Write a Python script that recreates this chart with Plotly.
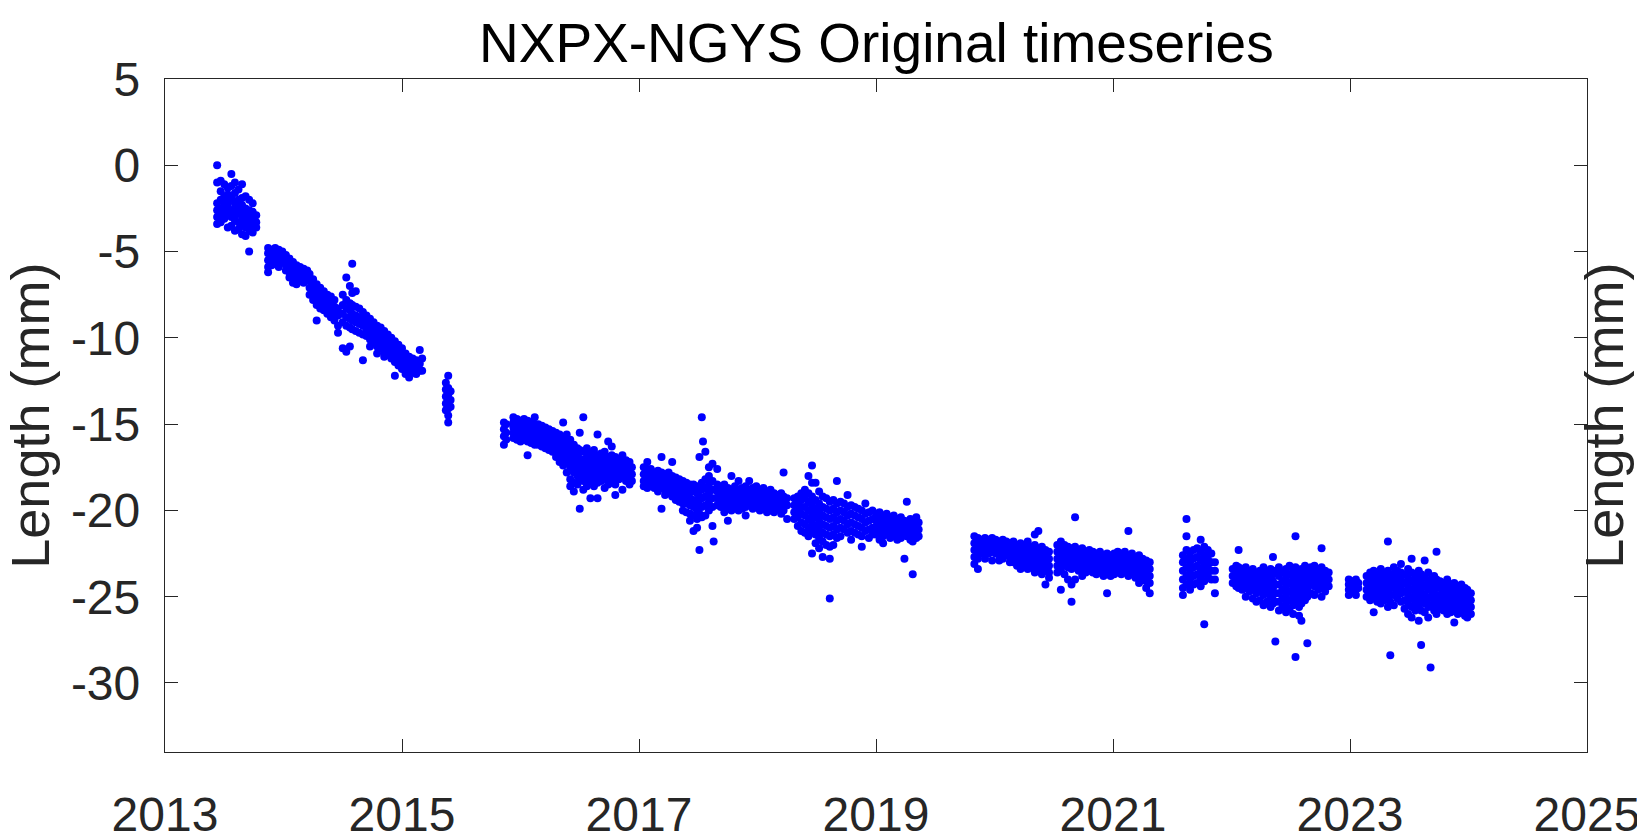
import plotly.graph_objects as go

# epoch (decimal year) -> list of baseline lengths (mm)
c2013 = [
    (2013.44, [0.0, -1.0, -2.2, -2.6, -3.0, -3.4]),
    (2013.47, [-0.9, -1.5, -2.0, -2.5, -2.9, -3.3]),
    (2013.50, [-1.1, -1.8, -2.3, -2.7, -3.1]),
    (2013.53, [-1.3, -1.7, -2.1, -2.4, -2.8, -3.6]),
    (2013.56, [-0.5, -1.2, -1.9, -2.6, -3.0, -3.5]),
    (2013.59, [-1.0, -1.6, -2.2, -2.5, -2.9, -3.2, -3.8]),
    (2013.62, [-1.4, -2.0, -2.4, -2.8, -3.3, -3.7]),
    (2013.65, [-1.1, -1.9, -2.3, -2.7, -3.0, -3.5, -4.0]),
    (2013.68, [-1.8, -2.5, -2.9, -3.2, -3.6, -4.1]),
    (2013.71, [-2.0, -2.6, -3.0, -3.4, -3.8, -5.0]),
    (2013.74, [-2.2, -2.7, -3.1, -3.5, -3.9]),
    (2013.77, [-2.9, -3.3, -3.6]),
    (2013.87, [-4.8, -5.1, -5.5, -5.9, -6.2]),
    (2013.90, [-4.9, -5.2, -5.5, -5.8]),
    (2013.93, [-4.8, -5.1, -5.4, -5.7]),
    (2013.96, [-4.9, -5.2, -5.6, -5.9]),
    (2013.99, [-5.0, -5.3, -5.6]),
]

c2014 = [
    (2014.02, [-5.2, -5.5, -5.8, -6.1]),
    (2014.05, [-5.4, -5.8, -6.2, -6.5]),
    (2014.08, [-5.6, -6.0, -6.4, -6.8]),
    (2014.11, [-5.8, -6.2, -6.6, -6.9]),
    (2014.14, [-5.9, -6.3, -6.7]),
    (2014.17, [-6.0, -6.4, -6.8]),
    (2014.20, [-6.1, -6.5]),
    (2014.22, [-6.3, -6.7, -7.1, -7.5]),
    (2014.25, [-6.6, -7.0, -7.4, -7.8]),
    (2014.28, [-6.9, -7.3, -7.7, -8.1, -9.0]),
    (2014.31, [-7.1, -7.5, -7.9, -8.3]),
    (2014.34, [-7.3, -7.7, -8.1, -8.4]),
    (2014.37, [-7.5, -7.9, -8.3, -8.6]),
    (2014.40, [-7.6, -8.0, -8.4, -8.8]),
    (2014.43, [-7.8, -8.2, -8.6, -9.0]),
    (2014.46, [-8.3, -8.7, -9.3, -9.7]),
    (2014.50, [-7.5, -8.1, -8.6, -9.1, -10.6]),
    (2014.53, [-6.5, -7.8, -8.3, -8.8, -9.3, -10.8]),
    (2014.56, [-7.0, -8.0, -8.4, -8.9, -9.4, -10.5]),
    (2014.58, [-5.7, -7.4, -8.1, -8.6, -9.0, -9.5]),
    (2014.61, [-7.3, -8.2, -8.7, -9.1, -9.6]),
    (2014.64, [-8.3, -8.8, -9.2, -9.7]),
    (2014.67, [-8.5, -8.9, -9.3, -9.8, -11.3]),
    (2014.70, [-8.7, -9.1, -9.5, -9.9]),
    (2014.73, [-8.9, -9.3, -9.7, -10.1, -10.5]),
    (2014.76, [-9.1, -9.5, -9.9, -10.3]),
    (2014.79, [-9.3, -9.7, -10.1, -10.5, -10.9]),
    (2014.82, [-9.4, -9.8, -10.2, -10.6]),
    (2014.85, [-9.6, -10.0, -10.4, -10.8, -11.1]),
    (2014.88, [-9.8, -10.2, -10.6, -11.0]),
    (2014.91, [-10.0, -10.4, -10.8, -11.2]),
    (2014.94, [-10.2, -10.6, -11.0, -11.4, -12.2]),
    (2014.97, [-10.4, -10.8, -11.2, -11.6]),
]

c2015 = [
    (2015.00, [-10.6, -11.0, -11.4, -11.8]),
    (2015.03, [-10.9, -11.3, -11.7, -12.1]),
    (2015.06, [-11.1, -11.5, -11.9, -12.3]),
    (2015.09, [-11.2, -11.6, -12.0]),
    (2015.12, [-11.3, -11.7, -12.1]),
    (2015.15, [-10.7, -11.5, -11.9]),
    (2015.17, [-11.2, -11.9]),
    (2015.37, [-12.6, -13.0, -13.4, -13.8, -14.2]),
    (2015.39, [-12.2, -12.9, -13.3, -13.7, -14.1, -14.5, -14.9]),
    (2015.41, [-13.1, -13.6, -14.0]),
    (2015.86, [-14.9, -15.3, -15.7, -16.2]),
    (2015.88, [-15.0, -15.5, -15.9]),
    (2015.94, [-14.6, -14.9, -15.2, -15.5, -15.8]),
    (2015.97, [-14.7, -15.0, -15.3, -15.6, -15.9]),
]

c2016 = [
    (2016.00, [-14.8, -15.1, -15.4, -15.7, -16.0]),
    (2016.03, [-14.7, -15.0, -15.3, -15.6, -15.9]),
    (2016.06, [-14.8, -15.1, -15.4, -15.7, -16.0, -16.8]),
    (2016.09, [-14.9, -15.2, -15.5, -15.8, -16.1]),
    (2016.12, [-14.6, -15.0, -15.3, -15.6, -15.9, -16.2]),
    (2016.15, [-15.0, -15.3, -15.6, -15.9, -16.2]),
    (2016.18, [-15.1, -15.4, -15.7, -16.0, -16.3]),
    (2016.21, [-15.2, -15.5, -15.8, -16.1, -16.4]),
    (2016.24, [-15.3, -15.6, -15.9, -16.2, -16.5]),
    (2016.27, [-15.4, -15.7, -16.0, -16.3, -16.6]),
    (2016.30, [-15.5, -15.8, -16.1, -16.5, -16.9]),
    (2016.33, [-15.6, -16.0, -16.4, -16.8, -17.2]),
    (2016.36, [-14.9, -15.8, -16.2, -16.6, -17.0, -17.4]),
    (2016.39, [-15.6, -16.0, -16.4, -16.8, -17.2, -17.8]),
    (2016.42, [-15.9, -16.3, -16.7, -17.1, -17.5, -18.2, -18.6]),
    (2016.45, [-16.2, -16.6, -17.0, -17.4, -17.8, -18.4, -18.9]),
    (2016.48, [-16.4, -16.8, -17.2, -17.6, -18.0, -18.5]),
    (2016.50, [-15.5, -16.5, -17.0, -17.4, -17.8, -18.2, -19.9]),
    (2016.53, [-14.6, -16.6, -17.1, -17.5, -17.9, -18.3, -18.8]),
    (2016.56, [-16.4, -16.9, -17.3, -17.7, -18.1, -18.6]),
    (2016.59, [-16.7, -17.1, -17.5, -17.9, -18.3, -19.3]),
    (2016.62, [-16.5, -16.9, -17.3, -17.7, -18.1, -18.6]),
    (2016.65, [-15.6, -16.8, -17.2, -17.6, -18.0, -18.4, -19.3]),
    (2016.68, [-16.7, -17.1, -17.5, -17.9, -18.3]),
    (2016.71, [-16.6, -17.0, -17.4, -17.8, -18.2, -18.7]),
    (2016.74, [-16.0, -16.9, -17.3, -17.7, -18.1, -18.5]),
    (2016.77, [-16.3, -16.8, -17.2, -17.6, -18.0, -18.4]),
    (2016.80, [-16.9, -17.3, -17.7, -18.1, -18.5, -19.1]),
    (2016.83, [-17.0, -17.4, -17.8, -18.2]),
    (2016.86, [-16.8, -17.2, -17.6, -18.0, -18.8]),
    (2016.89, [-17.1, -17.5, -17.9, -18.3]),
    (2016.92, [-17.2, -17.6, -18.0, -18.5]),
    (2016.94, [-17.5, -17.9, -18.3]),
]

c2017 = [
    (2017.04, [-17.5, -17.9, -18.3, -18.6]),
    (2017.07, [-17.2, -17.6, -18.0, -18.4, -18.7]),
    (2017.10, [-17.6, -17.9, -18.2, -18.5]),
    (2017.13, [-17.8, -18.1, -18.4, -18.7]),
    (2017.16, [-17.7, -18.0, -18.3, -18.6, -18.9]),
    (2017.19, [-16.9, -17.8, -18.1, -18.4, -18.7, -19.9]),
    (2017.22, [-17.9, -18.2, -18.5, -18.8, -19.1]),
    (2017.25, [-17.8, -18.1, -18.4, -18.7, -19.0]),
    (2017.28, [-17.2, -18.0, -18.3, -18.6, -18.9, -19.2]),
    (2017.31, [-18.1, -18.4, -18.7, -19.0, -19.4]),
    (2017.34, [-18.2, -18.5, -18.8, -19.1, -19.5]),
    (2017.37, [-18.3, -18.6, -18.9, -19.2, -19.6, -20.0]),
    (2017.40, [-18.4, -18.8, -19.2, -19.6, -20.1]),
    (2017.43, [-18.5, -18.9, -19.3, -19.7, -20.2, -20.6]),
    (2017.46, [-18.5, -18.9, -19.4, -19.8, -20.3, -21.2]),
    (2017.49, [-18.6, -19.0, -19.5, -20.0, -20.5, -21.0]),
    (2017.51, [-16.9, -18.7, -19.2, -19.7, -20.2, -22.3]),
    (2017.53, [-14.6, -18.4, -18.8, -19.3, -19.8, -20.4]),
    (2017.54, [-16.0]),
    (2017.56, [-16.6, -18.2, -18.7, -19.2, -19.7, -20.3]),
    (2017.59, [-17.5, -18.0, -18.5, -19.0, -19.5, -20.0]),
    (2017.62, [-17.3, -18.3, -18.8, -19.3, -19.8, -20.9]),
    (2017.63, [-21.8]),
    (2017.66, [-17.6, -18.5, -18.9, -19.3, -19.7]),
    (2017.69, [-18.6, -19.0, -19.4, -19.8]),
    (2017.72, [-18.5, -18.9, -19.3, -19.7, -20.1]),
    (2017.75, [-18.7, -19.1, -19.5, -19.9, -20.6]),
    (2017.78, [-18.0, -18.8, -19.2, -19.6, -20.0]),
    (2017.81, [-18.6, -19.0, -19.4, -19.8]),
    (2017.84, [-18.3, -18.8, -19.2, -19.6, -20.0]),
    (2017.87, [-18.7, -19.1, -19.5, -19.9]),
    (2017.90, [-18.6, -19.0, -19.4, -19.8, -20.3]),
    (2017.93, [-18.3, -18.8, -19.2, -19.6]),
    (2017.96, [-18.7, -19.1, -19.5, -19.9]),
    (2017.99, [-18.6, -19.0, -19.4, -19.8]),
]

c2018 = [
    (2018.02, [-18.8, -19.2, -19.6, -20.0]),
    (2018.05, [-18.7, -19.1, -19.5, -19.9]),
    (2018.08, [-18.9, -19.3, -19.7, -20.1]),
    (2018.11, [-18.8, -19.2, -19.6, -20.0]),
    (2018.14, [-19.0, -19.4, -19.8, -20.1]),
    (2018.17, [-19.1, -19.5, -19.9]),
    (2018.20, [-19.0, -19.4, -19.8, -20.2]),
    (2018.22, [-17.8, -19.2, -19.6, -20.0]),
    (2018.25, [-19.3, -19.7, -20.5]),
    (2018.31, [-19.3, -19.7, -20.1, -20.5]),
    (2018.34, [-19.2, -19.6, -20.0, -20.4, -20.9]),
    (2018.37, [-19.0, -19.4, -19.8, -20.2, -20.7, -21.2]),
    (2018.40, [-18.8, -19.3, -19.8, -20.3, -20.8, -21.3]),
    (2018.43, [-18.0, -19.0, -19.5, -20.0, -20.5, -21.0, -21.5]),
    (2018.46, [-17.4, -18.4, -19.2, -19.7, -20.2, -20.7, -21.2, -22.5]),
    (2018.49, [-18.4, -19.4, -19.9, -20.4, -20.9, -21.4, -21.9]),
    (2018.52, [-18.9, -19.6, -20.1, -20.6, -21.1, -21.6, -22.2]),
    (2018.55, [-19.2, -19.8, -20.3, -20.8, -21.3, -21.8, -22.7]),
    (2018.58, [-19.3, -19.9, -20.4, -20.9, -21.4, -22.0]),
    (2018.61, [-19.5, -20.0, -20.5, -21.0, -21.5, -22.1, -22.8, -25.1]),
    (2018.64, [-19.4, -19.9, -20.4, -20.9, -21.4, -22.0]),
    (2018.67, [-18.3, -19.6, -20.1, -20.6, -21.1, -21.6]),
    (2018.70, [-19.5, -20.0, -20.5, -21.0, -21.5]),
    (2018.73, [-19.6, -20.1, -20.6, -21.1]),
    (2018.76, [-19.1, -19.8, -20.3, -20.8, -21.3]),
    (2018.79, [-19.7, -20.2, -20.7, -21.2, -21.7]),
    (2018.82, [-19.8, -20.3, -20.8, -21.3]),
    (2018.85, [-19.9, -20.4, -20.9, -21.4]),
    (2018.88, [-20.0, -20.5, -21.0, -21.5, -22.1]),
    (2018.91, [-19.6, -20.2, -20.7, -21.2]),
    (2018.94, [-20.1, -20.6, -21.1, -21.6]),
    (2018.97, [-20.0, -20.5, -21.0, -21.4]),
]

c2019 = [
    (2019.00, [-20.2, -20.6, -21.0, -21.4]),
    (2019.03, [-20.1, -20.5, -20.9, -21.3, -21.7]),
    (2019.06, [-20.3, -20.7, -21.1, -21.5, -21.9]),
    (2019.09, [-20.2, -20.6, -21.0, -21.4]),
    (2019.12, [-20.4, -20.8, -21.2, -21.6]),
    (2019.15, [-20.3, -20.7, -21.1, -21.5]),
    (2019.18, [-20.5, -20.9, -21.3, -21.7]),
    (2019.21, [-20.4, -20.8, -21.2, -21.6]),
    (2019.24, [-20.6, -21.0, -21.4, -22.8]),
    (2019.26, [-19.5, -20.7, -21.1, -21.5]),
    (2019.29, [-20.5, -20.9, -21.3, -21.7]),
    (2019.31, [-20.6, -21.0, -21.4, -21.8, -23.7]),
    (2019.34, [-20.4, -20.8, -21.2, -21.6]),
    (2019.36, [-20.7, -21.1, -21.5]),
    (2019.83, [-21.5, -21.9, -22.3, -22.7, -23.1]),
    (2019.86, [-21.6, -22.0, -22.4, -22.8, -23.4]),
    (2019.89, [-21.7, -22.1, -22.5]),
    (2019.92, [-21.6, -22.0, -22.4, -22.8]),
    (2019.95, [-21.7, -22.1, -22.5]),
    (2019.98, [-21.6, -22.0, -22.4, -22.9]),
]

c2020 = [
    (2020.01, [-21.7, -22.1, -22.5]),
    (2020.04, [-21.8, -22.2, -22.6, -22.9]),
    (2020.07, [-21.7, -22.1, -22.5, -22.8]),
    (2020.10, [-21.8, -22.2, -22.6]),
    (2020.13, [-21.9, -22.3, -22.7, -23.0]),
    (2020.16, [-21.8, -22.2, -22.6, -23.0]),
    (2020.19, [-22.0, -22.4, -22.8, -23.2]),
    (2020.22, [-21.9, -22.3, -22.7, -23.1, -23.4]),
    (2020.25, [-22.0, -22.4, -22.8, -23.2]),
    (2020.28, [-21.8, -22.2, -22.6, -23.0, -23.4]),
    (2020.31, [-22.1, -22.5, -22.9, -23.3]),
    (2020.34, [-21.4, -22.0, -22.4, -22.8, -23.2, -23.6]),
    (2020.37, [-21.2, -22.2, -22.6, -23.0, -23.4]),
    (2020.40, [-22.1, -22.5, -22.9, -23.3, -23.7]),
    (2020.43, [-22.3, -22.7, -23.1, -23.5, -24.3]),
    (2020.46, [-22.4, -22.8, -23.2, -23.6, -23.9]),
    (2020.53, [-22.0, -22.4, -22.8, -23.2, -23.6]),
    (2020.56, [-21.8, -22.2, -22.6, -23.0, -23.5, -24.6]),
    (2020.59, [-22.0, -22.4, -22.8, -23.2, -23.7]),
    (2020.62, [-22.1, -22.5, -22.9, -23.3, -24.0]),
    (2020.65, [-22.2, -22.6, -23.0, -23.4, -24.3, -25.3]),
    (2020.68, [-20.4, -22.1, -22.5, -22.9, -23.3, -24.0]),
    (2020.71, [-22.3, -22.7, -23.1, -23.5]),
    (2020.74, [-22.2, -22.6, -23.0, -23.4, -23.8]),
    (2020.77, [-22.4, -22.8, -23.2, -23.6]),
    (2020.80, [-22.3, -22.7, -23.1, -23.5]),
    (2020.83, [-22.4, -22.8, -23.2, -23.6]),
    (2020.86, [-22.5, -22.9, -23.3, -23.7]),
    (2020.89, [-22.4, -22.8, -23.2, -23.6]),
    (2020.92, [-22.6, -23.0, -23.4, -23.8]),
    (2020.95, [-22.5, -22.9, -23.3, -23.7, -24.8]),
    (2020.98, [-22.6, -23.0, -23.4, -23.8]),
]

c2021 = [
    (2021.01, [-22.5, -22.9, -23.3, -23.7]),
    (2021.04, [-22.4, -22.8, -23.2, -23.6]),
    (2021.07, [-22.5, -22.9, -23.3, -23.7]),
    (2021.10, [-22.4, -22.8, -23.2, -23.6]),
    (2021.13, [-21.2, -22.6, -23.0, -23.4, -23.8]),
    (2021.16, [-22.5, -22.9, -23.3, -23.7]),
    (2021.19, [-22.7, -23.1, -23.5, -23.9]),
    (2021.22, [-22.6, -23.0, -23.4, -23.8, -24.2]),
    (2021.25, [-22.8, -23.2, -23.6, -24.0]),
    (2021.28, [-22.9, -23.3, -23.7, -24.1, -24.5]),
    (2021.31, [-23.0, -23.4, -23.8, -24.2, -24.8]),
    (2021.59, [-22.6, -23.0, -23.5, -24.0, -24.5, -24.9]),
    (2021.62, [-20.5, -21.5, -22.3, -22.8, -23.3, -23.8, -24.3]),
    (2021.65, [-22.5, -23.0, -23.5, -24.0, -24.6]),
    (2021.68, [-22.3, -22.8, -23.3, -23.8, -24.3]),
    (2021.71, [-22.2, -22.7, -23.2, -23.7, -24.2]),
    (2021.74, [-21.7, -22.4, -22.9, -23.4, -23.9, -24.4]),
    (2021.77, [-22.1, -22.6, -23.1, -23.6, -24.1, -26.6]),
    (2021.80, [-22.3, -22.8, -23.3, -23.8]),
    (2021.83, [-22.5, -23.0, -23.5, -24.0]),
    (2021.86, [-23.0, -23.5, -24.0, -24.8]),
]

c2022 = [
    (2022.01, [-23.4, -23.8, -24.2]),
    (2022.04, [-23.2, -23.6, -24.0, -24.4]),
    (2022.06, [-22.3, -23.3, -23.7, -24.1, -24.5]),
    (2022.09, [-23.4, -23.8, -24.2, -24.6]),
    (2022.12, [-23.3, -23.7, -24.1, -24.5, -25.0]),
    (2022.15, [-23.5, -23.9, -24.3, -24.7]),
    (2022.18, [-23.4, -23.8, -24.2, -24.6, -25.1]),
    (2022.21, [-23.6, -24.0, -24.4, -24.8, -25.3]),
    (2022.24, [-23.5, -23.9, -24.3, -24.7, -25.2]),
    (2022.27, [-23.3, -23.7, -24.1, -24.5, -24.9, -25.5]),
    (2022.30, [-23.6, -24.0, -24.4, -24.8, -25.3]),
    (2022.33, [-23.4, -23.8, -24.2, -24.6, -25.0, -25.6]),
    (2022.35, [-22.7, -23.7, -24.1, -24.5, -24.9, -25.4]),
    (2022.37, [-23.5, -24.3, -24.8, -25.3, -27.6]),
    (2022.40, [-23.3, -23.8, -24.3, -24.8, -25.3, -25.8]),
    (2022.43, [-23.6, -24.1, -24.6, -25.1, -25.6]),
    (2022.46, [-23.4, -23.9, -24.4, -24.9, -25.4, -25.9]),
    (2022.49, [-23.2, -23.7, -24.2, -24.7, -25.2, -25.7]),
    (2022.52, [-23.5, -24.0, -24.5, -25.0, -25.5, -26.0]),
    (2022.54, [-21.5, -23.3, -23.8, -24.3, -24.8, -25.3, -28.5]),
    (2022.57, [-23.6, -24.1, -24.6, -25.1, -25.6, -26.1]),
    (2022.59, [-23.4, -23.9, -24.4, -24.9, -25.4, -26.4]),
    (2022.62, [-23.2, -23.7, -24.2, -24.7, -25.2]),
    (2022.64, [-23.5, -24.0, -24.5, -25.0, -27.7]),
    (2022.67, [-23.3, -23.8, -24.3, -24.8]),
    (2022.70, [-23.2, -23.6, -24.0, -24.4, -24.9]),
    (2022.73, [-23.4, -23.8, -24.2, -24.6]),
    (2022.76, [-22.2, -23.3, -23.7, -24.1, -24.5, -25.0]),
    (2022.79, [-23.5, -23.9, -24.3, -24.7]),
    (2022.82, [-23.6, -24.0, -24.4]),
    (2022.99, [-24.0, -24.3, -24.6, -24.9]),
]

c2023 = [
    (2023.02, [-24.1, -24.4, -24.7]),
    (2023.05, [-24.0, -24.3, -24.6, -24.9]),
    (2023.07, [-24.2, -24.5]),
    (2023.14, [-23.8, -24.2, -24.6, -25.0]),
    (2023.17, [-23.6, -24.0, -24.4, -24.8, -25.2]),
    (2023.20, [-23.5, -23.9, -24.3, -24.7, -25.1, -25.9]),
    (2023.23, [-23.7, -24.1, -24.5, -24.9, -25.3]),
    (2023.26, [-23.4, -23.8, -24.2, -24.6, -25.0, -25.4]),
    (2023.29, [-23.6, -24.0, -24.4, -24.8, -25.2]),
    (2023.32, [-21.8, -23.5, -23.9, -24.3, -24.7, -25.1, -25.6]),
    (2023.34, [-23.7, -24.1, -24.5, -24.9, -25.3, -28.4]),
    (2023.37, [-23.3, -23.7, -24.1, -24.5, -24.9, -25.5]),
    (2023.40, [-23.5, -23.9, -24.3, -24.7, -25.1]),
    (2023.43, [-23.1, -23.6, -24.0, -24.4, -24.8, -25.3]),
    (2023.46, [-23.7, -24.2, -24.7, -25.2, -25.7]),
    (2023.49, [-23.4, -23.9, -24.4, -24.9, -25.4, -26.0]),
    (2023.52, [-22.8, -23.6, -24.1, -24.6, -25.1, -25.6, -26.2]),
    (2023.55, [-23.8, -24.3, -24.8, -25.3, -25.8]),
    (2023.58, [-23.5, -24.0, -24.5, -25.0, -25.5, -26.4]),
    (2023.60, [-23.7, -24.2, -24.7, -25.2, -25.8, -27.8]),
    (2023.63, [-22.9, -23.9, -24.4, -24.9, -25.4, -25.9]),
    (2023.66, [-23.6, -24.1, -24.6, -25.1, -25.6, -26.2]),
    (2023.68, [-24.0, -24.5, -25.0, -25.5, -29.1]),
    (2023.71, [-23.8, -24.3, -24.8, -25.3, -25.8]),
    (2023.73, [-22.4, -24.0, -24.5, -25.0, -25.5, -26.0]),
    (2023.76, [-24.1, -24.5, -24.9, -25.3, -25.7]),
    (2023.79, [-24.2, -24.6, -25.0, -25.4, -25.8]),
    (2023.82, [-24.0, -24.4, -24.8, -25.2, -25.6, -26.0]),
    (2023.85, [-24.3, -24.7, -25.1, -25.5, -25.9]),
    (2023.88, [-24.2, -24.6, -25.0, -25.4, -25.8, -26.5]),
    (2023.91, [-24.4, -24.8, -25.2, -25.6, -26.0]),
    (2023.94, [-24.3, -24.7, -25.1, -25.5, -25.9]),
    (2023.97, [-24.5, -24.9, -25.3, -25.7, -26.1]),
    (2023.99, [-24.6, -25.0, -25.4, -25.8, -26.2]),
    (2024.02, [-24.8, -25.2, -25.6, -26.0]),
]

x_ticks = [2013, 2015, 2017, 2019, 2021, 2023, 2025]
y_ticks = [-30, -25, -20, -15, -10, -5, 0, 5]
y_ticktext = ["-30", "-25", "-20", "-15", "-10", "-5", "0", "5"]

epochs, lengths = [], []
for camp in [c2013, c2014, c2015, c2016, c2017, c2018, c2019, c2020, c2021, c2022, c2023]:
    for t, vals in camp:
        epochs += [t] * len(vals)
        lengths += vals

FONT = "Liberation Sans, Arial, Helvetica, sans-serif"
AX = "#262626"

fig = go.Figure()
fig.add_trace(go.Scatter(x=epochs, y=lengths, mode="markers",
                         marker=dict(color="#0000ff", size=8, line=dict(width=0)),
                         showlegend=False))

axis_style = dict(showline=True, linecolor=AX, linewidth=1.3, mirror="ticks",
                  ticks="inside", ticklen=13, tickwidth=1.3, tickcolor=AX,
                  showgrid=False, zeroline=False, automargin=False,
                  tickfont=dict(family=FONT, size=48, color=AX))

fig.update_xaxes(range=[2013, 2025], tickvals=x_ticks, ticklabelstandoff=20, **axis_style)
fig.update_yaxes(range=[-34, 5], tickvals=y_ticks, ticktext=y_ticktext,
                 ticklabelstandoff=14, **axis_style)

fig.add_annotation(text="NXPX-NGYS Original timeseries", xref="paper", yref="paper",
                   x=0.5, y=1.053, xanchor="center", yanchor="middle", showarrow=False,
                   font=dict(family=FONT, size=55, color="#000000"))
for xpos in (-0.0955, 1.0114):
    fig.add_annotation(text="Length (mm)", xref="paper", yref="paper",
                       x=xpos, y=0.5, xanchor="center", yanchor="middle",
                       textangle=-90, showarrow=False,
                       font=dict(family=FONT, size=54, color=AX))

# the page adds an 8px body margin, so the plot box is shifted back by that much
fig.update_layout(width=1645, height=839, plot_bgcolor="white", paper_bgcolor="white",
                  margin=dict(l=157, r=66, t=71, b=95))

fig.write_html("out.html")
